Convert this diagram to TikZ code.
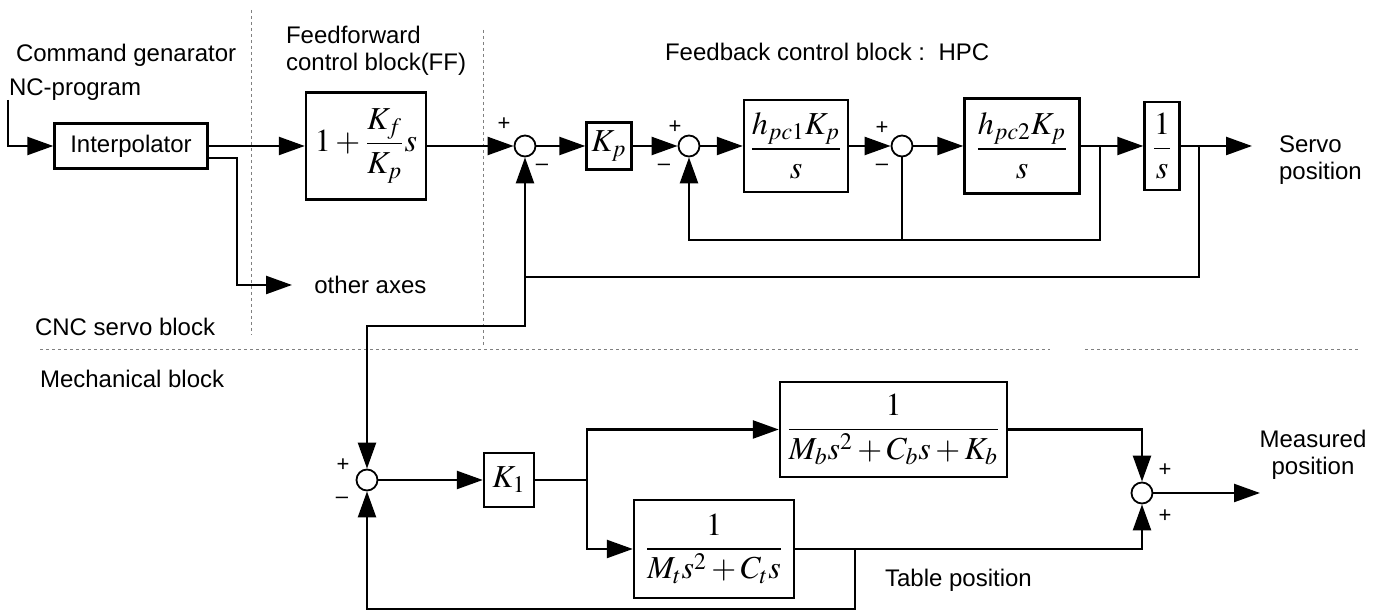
\documentclass[tikz,border=0pt]{standalone}
\usepackage{amsmath}
\usepackage{mathptmx}
\usepackage[no-math]{fontspec}
\setsansfont{Liberation Sans}
\usetikzlibrary{arrows.meta}

\begin{document}
\begin{tikzpicture}[x=0.5pt,y=-0.5pt,>={Triangle[length=13pt,width=9pt]},
    font=\sffamily\fontsize{12}{13.5}\selectfont,
    blk/.style={draw,line width=1.2pt,inner sep=1pt,font=\fontsize{16}{19}\selectfont},
    sumnode/.style={draw,circle,line width=0.9pt,minimum size=10.5pt,inner sep=0pt},
    sgn/.style={inner sep=0pt,font=\sffamily\fontsize{11}{11}\selectfont},
    sig/.style={line width=1.2pt},
    divline/.style={gray,line width=0.5pt,dash pattern=on 1.5pt off 1.5pt}]
    \useasboundingbox (0,0) rectangle (1378,613);

    \node[anchor=west] (cmdgen) at (9,55) {Command genarator};
    \node[anchor=west] (ncprog) at (2,90) {NC-program};
    \node[anchor=west,align=left] (fftitle) at (279,51) {Feedforward\\control block(FF)};
    \node[anchor=west] (fbtitle) at (658,52) {Feedback control block :\ \ HPC};
    \node[anchor=west] (cncblk) at (28,327) {CNC servo block};
    \node[anchor=west] (mechblk) at (33,379) {Mechanical block};

    \draw[divline] (251,10) -- (251,335);
    \draw[divline] (483,30) -- (483,348);
    \draw[divline] (40,350) -- (1050,350);
    \draw[divline] (1085,350) -- (1360,350);

    \node[blk,minimum width=76.5pt,minimum height=22.5pt,font=\sffamily\fontsize{12}{13.5}\selectfont] (interp) at (131,146) {Interpolator};
    \node[blk,minimum width=60pt,minimum height=53.5pt] (ff) at (366,146) {$1+\dfrac{K_f}{K_p}s$};
    \node[sumnode] (s1) at (525,146) {};
    \node[blk,minimum width=22.5pt,minimum height=23.5pt] (kp) at (609,146) {$K_p$};
    \node[sumnode] (s2) at (689,146) {};
    \node[blk,minimum width=52pt,minimum height=46pt] (h1) at (796,146) {$\dfrac{h_{pc1}K_p}{s}$};
    \node[sumnode] (s3) at (902,146) {};
    \node[blk,minimum width=57.5pt,minimum height=47.5pt] (h2) at (1022,146) {$\dfrac{h_{pc2}K_p}{s}$};
    \node[blk,minimum width=17.5pt,minimum height=44pt] (inv) at (1162,146) {$\dfrac{1}{s}$};
    \node[anchor=west,inner xsep=11pt] (axes) at (292,285) {other axes};
    \node[anchor=west,align=left] (servo) at (1272,160) {Servo\\position};

    \coordinate (in0) at (8,100);
    \coordinate (in1) at (8,146);
    \coordinate (oa) at (237,285);
    \coordinate (b1) at (1100,146);
    \coordinate (c1) at (1100,240);
    \coordinate (c2) at (689,240);
    \coordinate (c3) at (902,240);
    \coordinate (b2) at (1199,146);
    \coordinate (sp) at (1252,146);
    \coordinate (d1) at (1199,277);
    \coordinate (d2) at (525,277);
    \coordinate (d3) at (525,326);
    \coordinate (d4) at (367,326);

    \draw[sig,->] (in0) -- (in1) -- (interp);
    \draw[sig,->] (interp) -- (ff);
    \draw[sig,->] ([yshift=-6pt]interp.east) -| (oa) -- (axes.west);
    \draw[sig,->] (ff) -- (s1);
    \draw[sig,->] (s1) -- (kp);
    \draw[sig,->] (kp) -- (s2);
    \draw[sig,->] (s2) -- (h1);
    \draw[sig,->] (h1) -- (s3);
    \draw[sig,->] (s3) -- (h2);
    \draw[sig,->] (h2) -- (inv);
    \draw[sig,->] (inv) -- (sp);
    \draw[sig,->] (b1) -- (c1) -- (c2) -- (s2);
    \draw[sig] (s3) -- (c3);
    \draw[sig,->] (b2) -- (d1) -- (d2) -- (s1);

    \node[sgn] at (504,124) {+};
    \node[sgn] at (542,167) {\textendash};
    \node[sgn] at (675,127) {+};
    \node[sgn] at (664,167) {\textendash};
    \node[sgn] at (882,128) {+};
    \node[sgn] at (882,167) {\textendash};

    \node[sumnode] (s4) at (367,480) {};
    \node[blk,minimum width=25pt,minimum height=27pt] (k1) at (509,480) {$K_1$};
    \node[blk,minimum width=113.5pt,minimum height=47.5pt] (mb) at (893.5,429.5) {$\dfrac{1}{M_b s^2+C_b s+K_b}$};
    \node[blk,minimum width=80pt,minimum height=49pt] (mt) at (714,549) {$\dfrac{1}{M_t s^2+C_t s}$};
    \node[sumnode] (s5) at (1142,493) {};
    \node[align=center] (meas) at (1313,455) {Measured\\position};
    \node[anchor=west] (table) at (878,580) {Table position};

    \coordinate (b3) at (587,480);
    \coordinate (b4) at (855,549);
    \coordinate (b5) at (855,609);
    \coordinate (b6) at (367,609);
    \coordinate (mp) at (1260,493);

    \draw[sig,->] (d2) -- (d3) -- (d4) -- (s4);
    \draw[sig,->] (s4) -- (k1);
    \draw[sig] (k1) -- (b3);
    \draw[sig,->] (b3) |- (mb.west);
    \draw[sig,->] (b3) |- (mt.west);
    \draw[sig,->] (mb.east) -| (s5);
    \draw[sig,->] (mt.east) -| (s5);
    \draw[sig,->] (s5) -- (mp);
    \draw[sig,->] (b4) -- (b5) -- (b6) -- (s4);

    \node[sgn] at (343,465) {+};
    \node[sgn] at (342,500) {\textendash};
    \node[sgn] at (1165,470) {+};
    \node[sgn] at (1165,516) {+};
\end{tikzpicture}
\end{document}
